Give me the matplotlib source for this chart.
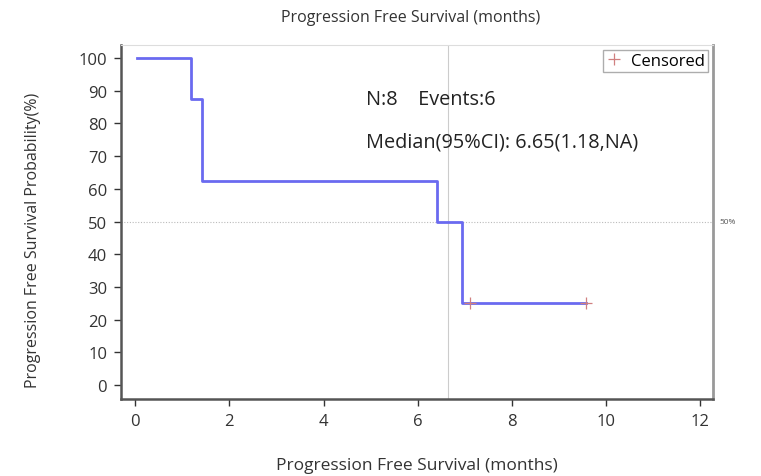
import matplotlib
matplotlib.use("Agg")
import matplotlib.pyplot as plt
import numpy as np

plt.rcParams['font.family'] = ['Open Sans', 'DejaVu Sans']

# Kaplan-Meier step data
times = [0.05, 1.18, 1.42, 6.40, 6.95, 9.57]
surv = [100, 87.5, 62.5, 50, 25, 25]
censor_times = [7.10, 9.57]
censor_surv = [25, 25]
median_time = 6.65
xticks = [0, 2, 4, 6, 8, 10, 12]
yticks = [0, 10, 20, 30, 40, 50, 60, 70, 80, 90, 100]

fig = plt.figure(figsize=(7.61, 4.77), dpi=100)
ax = fig.add_axes([0.159, 0.161, 0.778, 0.743])

ax.step(times, surv, where='post', color='#6a6af0', lw=2, zorder=3)
ax.plot(censor_times, censor_surv, linestyle='none', marker='+', color='#d08080',
        markersize=9, markeredgewidth=0.9, zorder=4, label='Censored')

ax.axhline(50, color='#bbbbbb', lw=0.8, linestyle=(0, (1, 1.5)), zorder=1)
ax.axvline(median_time, color='#cccccc', lw=0.8, zorder=1)

ax.set_xlim(-0.3, 12.27)
ax.set_ylim(-4.3, 104)
ax.set_xticks(xticks)
ax.set_yticks(yticks)
ax.tick_params(axis='both', labelsize=12, colors='#333333', length=5, width=1,
               direction='out', pad=5)

for side in ['left', 'bottom']:
    ax.spines[side].set_color('#555555')
    ax.spines[side].set_linewidth(1.8)
ax.spines['right'].set_color('#999999')
ax.spines['right'].set_linewidth(2)
ax.spines['top'].set_color('#dddddd')
ax.spines['top'].set_linewidth(0.8)

ax.text(1.01, (50 + 4.3) / 108.3, '50%', transform=ax.transAxes, fontsize=6,
        color='#555555', va='center', ha='left')

ax.text(4.9, 87.5, 'N:8    Events:6', fontsize=14.3, color='#222222', va='center')
ax.text(4.9, 74.3, 'Median(95%CI): 6.65(1.18,NA)', fontsize=14.3, color='#222222',
        va='center')

leg = ax.legend(loc='upper right', fontsize=12, frameon=True, fancybox=False,
                handlelength=1.0, handletextpad=0.5, borderpad=0.2,
                borderaxespad=0.3)
leg.get_frame().set_edgecolor('#999999')
leg.get_frame().set_linewidth(1)

fig.text(0.54, 0.962, 'Progression Free Survival (months)', ha='center', va='center',
         fontsize=11.5, color='#333333')
ax.set_xlabel('Progression Free Survival (months)', fontsize=12.5, color='#333333',
              labelpad=20)
ax.set_ylabel('Progression Free Survival Probability(%)', fontsize=11.5,
              color='#333333')
ax.yaxis.set_label_coords(-0.135, 0.452)

fig.savefig('out.png', dpi=100)
